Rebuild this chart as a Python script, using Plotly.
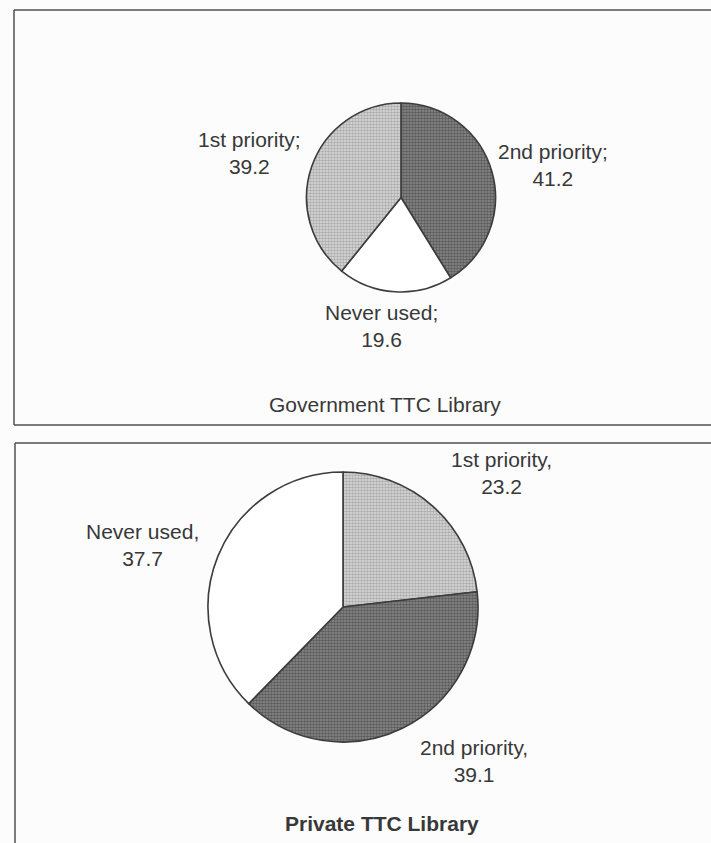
import plotly.graph_objects as go

W, H = 711, 843

# Government TTC Library
gov_labels = ["2nd priority", "Never used", "1st priority"]
gov_values = [41.2, 19.6, 39.2]

# Private TTC Library
priv_labels = ["1st priority", "2nd priority", "Never used"]
priv_values = [23.2, 39.1, 37.7]

titles = ["Government TTC Library", "Private TTC Library"]

fills = {
    "2nd priority": dict(bg="#8a8a8a", fg="#2c2c2c"),
    "1st priority": dict(bg="#dcdcdc", fg="#7c7c7c"),
    "Never used": dict(bg="#ffffff", fg="#ffffff"),
}

FONT = "Liberation Sans, Arial, sans-serif"
TXT = "#383838"


def px(x, y):
    # pixel position -> paper coordinates
    return x / W, 1 - y / H


def pie(labels, values, cx, cy, r):
    x0, y1 = px(cx - r, cy - r)
    x1, y0 = px(cx + r, cy + r)
    return go.Pie(
        labels=labels,
        values=values,
        sort=False,
        direction="clockwise",
        rotation=0,
        textinfo="none",
        hoverinfo="label+value",
        showlegend=False,
        domain=dict(x=[x0, x1], y=[y0, y1]),
        marker=dict(
            colors=[fills[l]["bg"] for l in labels],
            line=dict(color="#3c3c3c", width=1.6),
            pattern=dict(
                shape=["." if l != "Never used" else "" for l in labels],
                fgcolor=[fills[l]["fg"] for l in labels],
                bgcolor=[fills[l]["bg"] for l in labels],
                size=3,
                solidity=0.55,
                fillmode="overlay",
            ),
        ),
    )


fig = go.Figure()
fig.add_trace(pie(gov_labels, gov_values, 401, 197.5, 94.5))
fig.add_trace(pie(priv_labels, priv_values, 343, 607, 135))

annotations = []


def label(text, x, y, size=21, bold=False):
    ax, ay = px(x, y)
    annotations.append(dict(
        text=f"<b>{text}</b>" if bold else text,
        x=ax, y=ay, xref="paper", yref="paper",
        xanchor="center", yanchor="middle", showarrow=False,
        font=dict(family=FONT, size=size, color=TXT),
    ))


# value labels, positions
gov_pos = {"2nd priority": (553, 165), "Never used": (381, 326), "1st priority": (249, 153)}
for l, v in zip(gov_labels, gov_values):
    x, y = gov_pos[l]
    label(f"{l};<br>{v}", x, y)

priv_pos = {"1st priority": (501, 473), "2nd priority": (474, 761), "Never used": (142, 545)}
for l, v in zip(priv_labels, priv_values):
    x, y = priv_pos[l]
    label(f"{l},<br>{v}", x, y)

label(titles[0], 385, 404)
label(titles[1], 382, 823, size=21, bold=True)

# panel frames (right side runs off the page)
line = dict(color="#505050", width=1.5)
shapes = [
    dict(type="line", xref="paper", yref="paper", x0=px(14, 0)[0], x1=1.0,
         y0=px(0, 10)[1], y1=px(0, 10)[1], line=line),
    dict(type="line", xref="paper", yref="paper", x0=px(14, 0)[0], x1=1.0,
         y0=px(0, 425)[1], y1=px(0, 425)[1], line=line),
    dict(type="line", xref="paper", yref="paper", x0=px(14, 0)[0], x1=px(14, 0)[0],
         y0=px(0, 10)[1], y1=px(0, 425)[1], line=line),
    dict(type="line", xref="paper", yref="paper", x0=px(15, 0)[0], x1=1.0,
         y0=px(0, 443)[1], y1=px(0, 443)[1], line=line),
    dict(type="line", xref="paper", yref="paper", x0=px(15, 0)[0], x1=px(15, 0)[0],
         y0=px(0, 443)[1], y1=0.0, line=line),
]

fig.update_layout(
    width=W,
    height=H,
    margin=dict(l=0, r=0, t=0, b=0),
    paper_bgcolor="#fcfcfc",
    plot_bgcolor="#fcfcfc",
    annotations=annotations,
    shapes=shapes,
)

# drop the browser's default page margin so the figure sits at 0,0
fig.write_html(
    "out.html",
    config={"displayModeBar": False},
    post_script="document.body.style.margin='0';",
)
